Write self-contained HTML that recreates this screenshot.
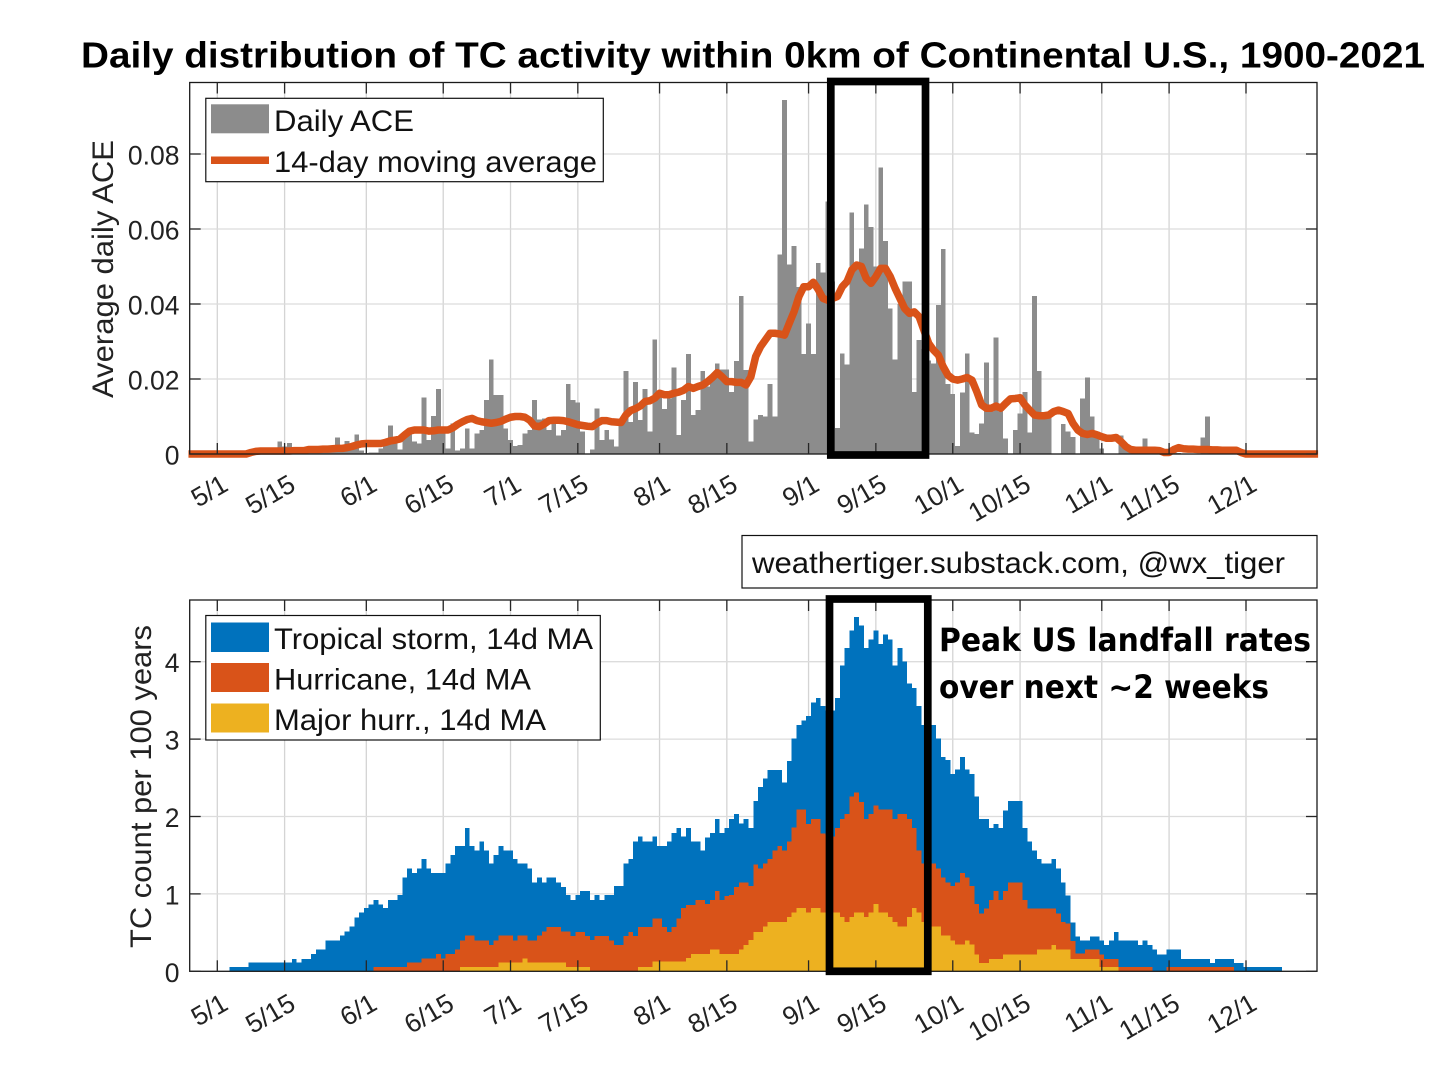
<!DOCTYPE html>
<html><head><meta charset="utf-8"><title>Daily distribution of TC activity</title>
<style>
html,body{margin:0;padding:0;background:#fff}
svg{display:block}
text{font-family:"Liberation Sans",Arial,sans-serif;fill:#111}
.tick{font-size:26.5px;fill:#222}
.leg{font-size:30px;fill:#111}
</style></head>
<body>
<svg id="chart" xmlns="http://www.w3.org/2000/svg" width="1456" height="1092" viewBox="0 0 1456 1092">
<text x="81" y="67.5" font-size="36" font-weight="bold" textLength="1344" lengthAdjust="spacingAndGlyphs" style="fill:#000">Daily distribution of TC activity within 0km of Continental U.S., 1900-2021</text>
<text transform="translate(113,398) rotate(-90)" font-size="30" textLength="258" lengthAdjust="spacingAndGlyphs" style="fill:#222">Average daily ACE</text>
<text transform="translate(151,948) rotate(-90)" font-size="30" textLength="323" lengthAdjust="spacingAndGlyphs" style="fill:#222">TC count per 100 years</text>
<g id="topGrid"></g>
<g id="botGrid"></g>
<g id="aceBars"></g>
<g id="stormBars"></g>
<g id="hurrBars"></g>
<g id="majorBars"></g>
<path id="aceLine" fill="none" stroke="#D95319" stroke-width="7.5" stroke-linejoin="round"/>
<g id="topAxis"></g>
<g id="botAxis"></g>
<rect x="830.8" y="81.5" width="94.7" height="373.5" fill="none" stroke="#000" stroke-width="7.7"/>
<rect x="829.5" y="599" width="98.3" height="372.3" fill="none" stroke="#000" stroke-width="7.7"/>
<g>
<rect x="205.8" y="98.3" width="397.5" height="83.4" fill="#fff" stroke="#111" stroke-width="1.2"/>
<rect x="211" y="104.3" width="58" height="29" fill="#8c8c8c"/>
<rect x="211" y="156.5" width="58" height="7.5" fill="#D95319"/>
<text class="leg" x="274" y="131" textLength="140" lengthAdjust="spacingAndGlyphs">Daily ACE</text>
<text class="leg" x="274" y="172" textLength="323" lengthAdjust="spacingAndGlyphs">14-day moving average</text>
</g>
<g>
<rect x="205.8" y="615.5" width="394.5" height="124.5" fill="#fff" stroke="#111" stroke-width="1.2"/>
<rect x="211" y="622.5" width="58" height="29.5" fill="#0072BD"/>
<rect x="211" y="663" width="58" height="29" fill="#D95319"/>
<rect x="211" y="703.5" width="58" height="29" fill="#EDB120"/>
<text class="leg" x="274" y="649" textLength="319" lengthAdjust="spacingAndGlyphs">Tropical storm, 14d MA</text>
<text class="leg" x="274" y="689.5" textLength="257" lengthAdjust="spacingAndGlyphs">Hurricane, 14d MA</text>
<text class="leg" x="274" y="730" textLength="272" lengthAdjust="spacingAndGlyphs">Major hurr., 14d MA</text>
</g>
<g>
<rect x="742" y="535.5" width="575" height="52.5" fill="#fff" stroke="#111" stroke-width="1.2"/>
<text x="752" y="573" font-size="30" textLength="533" lengthAdjust="spacingAndGlyphs">weathertiger.substack.com, @wx_tiger</text>
</g>
<text x="939" y="651" font-size="32" font-weight="bold" textLength="372" lengthAdjust="spacingAndGlyphs" style="font-family:'DejaVu Sans',sans-serif;fill:#000">Peak US landfall rates</text>
<text x="939" y="698" font-size="32" font-weight="bold" textLength="330" lengthAdjust="spacingAndGlyphs" style="font-family:'DejaVu Sans',sans-serif;fill:#000">over next ~2 weeks</text>
</svg>
<script>
const tickDays = [0,14,31,47,61,75,92,106,123,137,153,167,184,198,214];
const tickLabels = ['5/1','5/15','6/1','6/15','7/1','7/15','8/1','8/15','9/1','9/15','10/1','10/15','11/1','11/15','12/1'];
const aceTicks = [0,0.02,0.04,0.06,0.08];
const aceTickLabels = ['0','0.02','0.04','0.06','0.08'];
const countTicks = [0,1,2,3,4];
const countTickLabels = ['0','1','2','3','4'];
const lineFirstDay = -6;
const dailyAce = [0,0,0,0,0,0,0,0,0,0,0,0,0,.0033,.002,.003,.0006,.0006,.0008,.0008,.0008,.0008,.0012,.0012,.0012,.0044,.002,.0035,.002,.0052,.001,.0003,.0004,.0004,.0015,.0028,.0076,.0037,.0012,.0046,.0057,.0033,.0028,.0151,.0037,.0101,.0173,.006,.0015,.0082,.001,.0015,.0068,.0015,.0055,.0064,.0144,.0252,.0157,.0157,.0068,.0037,.0022,.0024,.0055,.0064,.0144,.0092,.0095,.0064,.0082,.005,.0064,.0187,.0144,.0138,.006,0,.0012,.0122,.0037,.0064,.0039,.002,.0078,.0221,.0086,.0192,.0091,.0173,.006,.0306,.016,.012,.0148,.0231,.0051,.0144,.0267,.0104,.0117,.0221,.018,.0197,.0242,.0226,.0226,.0166,.0248,.0422,.0224,.0033,.0092,.0104,.01,.0187,.01,.0532,.0944,.0506,.0555,.0446,.0267,.0348,.0267,.051,.0484,.0673,.046,.007,.0268,.0239,.0644,.05,.0548,.0666,.0606,.05,.0764,.0568,.0388,.0252,.04,.046,.046,.0166,.0304,.028,.025,.0242,.0397,.0547,.0187,.016,.0022,.0164,.0268,.0058,.0053,.0082,.0244,.0113,.0311,.0113,.0042,0,.0064,.0108,.0166,.0058,.0422,.0221,.01,.01,0,0,.008,.006,.0046,0,.0148,.0204,.01,.006,.0015,.0001,.0002,.0002,.005,.002,.0006,.0002,.0002,.0042,.0005,.0002,.0002,.0002,.0002,.0006,.0003,.0002,.0002,.0002,.0002,.0044,.01,.001];
const movingAverage = [0,0,0,0,0,0,0,0,0,0,0,0,0,.0004,.0007,.0008,.0008,.0008,.0008,.0008,.0008,.0008,.0009,.0009,.0009,.0012,.0012,.0012,.0013,.0013,.0014,.0015,.0015,.0017,.002,.0024,.0027,.0028,.0028,.0028,.0028,.0031,.0035,.0037,.004,.0051,.0061,.0064,.0064,.0064,.0061,.0062,.0064,.0064,.0064,.007,.0079,.0086,.0092,.0095,.0089,.0086,.0084,.0082,.0084,.0087,.0093,.0098,.01,.01,.0098,.009,.0075,.0073,.008,.0089,.009,.009,.0089,.0086,.0082,.0078,.0076,.0074,.0073,.0082,.0089,.0089,.0086,.0085,.0084,.0104,.0116,.0121,.0128,.014,.0142,.0149,.0162,.0158,.0158,.0162,.0165,.017,.018,.0175,.018,.0184,.0193,.0204,.0217,.0206,.0193,.0193,.0191,.0191,.0184,.0206,.026,.0286,.0304,.0322,.0322,.032,.0317,.0349,.038,.042,.0446,.0446,.0458,.0439,.0415,.041,.0415,.042,.0446,.046,.0491,.0504,.05,.0468,.0455,.0473,.0495,.0495,.0473,.0442,.0415,.0388,.0375,.0379,.0366,.033,.0295,.0277,.0264,.0233,.021,.02,.0197,.02,.0204,.0197,.0166,.0131,.0122,.0122,.0128,.0122,.0135,.0147,.0148,.015,.0131,.0117,.0104,.0102,.0102,.0104,.0113,.0117,.0113,.0108,.0082,.0064,.0055,.0052,.0055,.0051,.0046,.0042,.0042,.0044,.0033,.002,.0012,.001,.001,.001,.001,.001,.0009,.0004,.0004,.0012,.0017,.0014,.0013,.0013,.0012,.0012,.0012,.0011,.0011,.001,.001,.001,.001,.0004,0,0,0,0,0,0,0,0,0,0,0,0,0,0,0,0];
const tropicalStormTotal = [0,0,0,.056,.056,.056,.056,.116,.116,.116,.116,.116,.116,.116,.116,.116,.16,.116,.16,.16,.224,.284,.284,.4,.4,.4,.46,.513,.578,.694,.76,.815,.862,.918,.862,.815,.922,.922,.983,1.21,1.33,1.27,1.33,1.45,1.33,1.27,1.27,1.27,1.39,1.5,1.62,1.62,1.85,1.62,1.56,1.68,1.56,1.39,1.5,1.62,1.56,1.56,1.45,1.39,1.39,1.33,1.15,1.21,1.15,1.21,1.21,1.15,1.09,.987,.922,.987,1.04,1.04,.922,.987,.922,.987,.987,1.1,1.1,1.39,1.45,1.68,1.74,1.68,1.68,1.74,1.62,1.62,1.68,1.79,1.85,1.74,1.85,1.68,1.68,1.56,1.73,1.79,1.97,1.79,1.85,1.97,2.03,1.91,1.97,1.85,2.2,2.38,2.49,2.6,2.6,2.6,2.44,2.72,3.01,3.18,3.24,3.3,3.47,3.53,3.43,3.37,3.37,3.53,3.95,4.18,4.4,4.58,4.47,4.18,4.29,4.4,4.23,4.35,4.29,3.95,4.18,4,3.72,3.66,3.43,3.18,3.18,3.18,3.01,2.77,2.73,2.55,2.61,2.77,2.61,2.55,2.26,1.97,1.97,1.85,1.9,1.85,2.08,2.2,2.2,2.2,1.85,1.68,1.56,1.45,1.39,1.39,1.45,1.33,1.15,.98,.63,.45,.4,.4,.45,.45,.4,.34,.4,.51,.4,.4,.4,.4,.34,.4,.34,.28,.22,.22,.28,.28,.28,.16,.16,.16,.16,.16,.16,.11,.16,.16,.16,.16,.11,.11,.056,.056,.056,.056,.056,.056,.056,.056];
const hurricaneTotal = [0,0,0,0,0,0,0,0,0,0,0,0,0,0,0,0,0,0,0,0,0,0,0,0,0,0,0,0,0,0,0,0,0,.056,.056,.056,.056,.056,.056,.056,.116,.116,.116,.168,.168,.168,.224,.168,.224,.224,.284,.4,.46,.46,.4,.4,.4,.34,.4,.46,.46,.46,.4,.46,.46,.4,.4,.46,.513,.573,.573,.573,.513,.513,.457,.51,.51,.457,.405,.457,.457,.457,.4,.34,.34,.457,.51,.457,.57,.57,.57,.685,.685,.57,.51,.57,.685,.815,.858,.858,.92,.92,.87,.92,1.04,.92,.974,.985,1.09,1.15,1.15,1.1,1.38,1.33,1.39,1.45,1.56,1.62,1.56,1.68,1.86,2.09,2.09,1.9,1.97,1.97,1.78,1.76,1.74,1.85,1.97,2.03,2.26,2.31,2.19,1.97,2.03,2.14,2.09,2.09,2.09,1.97,2.03,2.03,1.97,1.85,1.56,1.39,1.39,1.39,1.33,1.21,1.15,1.1,1.15,1.27,1.21,1.1,.87,.75,.81,.92,1.04,.92,1.04,1.15,1.15,1.15,.92,.81,.81,.81,.81,.81,.81,.75,.64,.62,.39,.23,.23,.28,.28,.28,.22,.16,.16,.16,.056,.056,.056,.056,.056,.056,.056,0,0,0,.056,.056,.056,.056,.056,.056,.056,.056,.056,.056,.056,.056,.056,.056];
const majorTotal = [0,0,0,0,0,0,0,0,0,0,0,0,0,0,0,0,0,0,0,0,0,0,0,0,0,0,0,0,0,0,0,0,0,0,0,0,0,0,0,0,0,0,0,0,0,0,0,0,0,0,0,.056,.056,.056,.056,.056,.056,.056,.056,.116,.116,.116,.116,.116,.168,.116,.116,.116,.116,.116,.116,.116,.116,.056,.056,.056,.056,.056,0,0,0,0,0,0,0,0,0,0,.056,.056,.056,.125,.125,.125,.125,.125,.125,.125,.17,.224,.224,.224,.224,.284,.284,.224,.224,.224,.224,.284,.34,.405,.51,.51,.58,.64,.64,.64,.64,.7,.76,.815,.815,.76,.815,.815,.76,.76,.76,.76,.7,.64,.7,.76,.76,.7,.76,.87,.76,.76,.7,.64,.58,.58,.7,.815,.76,.64,.6,.58,.58,.46,.46,.4,.345,.345,.4,.345,.22,.11,.11,.16,.16,.16,.22,.22,.22,.22,.22,.22,.22,.28,.28,.28,.34,.28,.28,.28,.16,.16,.16,.16,.16,.16,.056,.056,.056,.056];

const NS = 'http://www.w3.org/2000/svg';
const plotLeft = 189.7, plotRight = 1317;
const topRect = {top: 82.5, bottom: 454};
const botRect = {top: 600, bottom: 971.3};
function xScale(day){ return 217.3 + 4.807 * day; }
function yAce(v){ return 454 - v * 3750; }
function yCount(v){ return 971.3 - v * 77.4; }
function mk(tag, attrs, parent){
  const el = document.createElementNS(NS, tag);
  for (const k in attrs) el.setAttribute(k, attrs[k]);
  parent.appendChild(el);
  return el;
}
function drawGrid(group, rect, yTicks, yFn){
  tickDays.forEach(function(d){
    const l = mk('line', {x1:xScale(d), x2:xScale(d), y1:rect.top, y2:rect.bottom, stroke:'#d4d4d4', 'stroke-width':1.3}, group);
    
    
  });
  yTicks.forEach(function(v){
    const l = mk('line', {x1:plotLeft, x2:plotRight, y1:yFn(v), y2:yFn(v), stroke:'#dcdcdc', 'stroke-width':1.3}, group);
    
    
  });
}
function drawBars(group, values, fill, yFn, name){
  values.forEach(function(v, d){
    if (v <= 0) return;
    const x0 = xScale(d - 0.5), x1 = xScale(d + 0.5);
    const r = mk('rect', {x:x0, width:x1 - x0, y:yFn(v), height:yFn(0) - yFn(v), fill:fill, 'shape-rendering':'crispEdges'}, group);
    
    
  });
}
function drawAxes(group, rect, yTicks, yLabels, yFn, labelY){
  const f = mk('rect', {x:plotLeft, y:rect.top, width:plotRight - plotLeft, height:rect.bottom - rect.top, fill:'none', stroke:'#1a1a1a', 'stroke-width':1.3}, group);
  
  
  tickDays.forEach(function(d, i){
    const x = xScale(d);
    const a = mk('line', {x1:x, x2:x, y1:rect.bottom, y2:rect.bottom - 11, stroke:'#262626', 'stroke-width':1.3}, group);
    
    
    const b = mk('line', {x1:x, x2:x, y1:rect.top, y2:rect.top + 11, stroke:'#262626', 'stroke-width':1.3}, group);
    
    
    const t = mk('text', {'class':'tick', 'text-anchor':'end', transform:'translate(' + (x + 12.5) + ',' + labelY + ') rotate(-30)'}, group);
    t.textContent = tickLabels[i];
    
    
  });
  yTicks.forEach(function(v, i){
    const y = yFn(v);
    const a = mk('line', {x1:plotLeft, x2:plotLeft + 11, y1:y, y2:y, stroke:'#262626', 'stroke-width':1.3}, group);
    
    
    const b = mk('line', {x1:plotRight, x2:plotRight - 11, y1:y, y2:y, stroke:'#262626', 'stroke-width':1.3}, group);
    
    
    const t = mk('text', {'class':'tick', 'text-anchor':'end', x:179.5, y:y + 10.5}, group);
    t.textContent = yLabels[i];
    
    
  });
}
const $ = function(id){ return document.getElementById(id); };
drawGrid($('topGrid'), topRect, aceTicks, yAce);
drawGrid($('botGrid'), botRect, countTicks, yCount);
drawBars($('aceBars'), dailyAce, '#8c8c8c', yAce, 'daily-ace-bar');
drawBars($('stormBars'), tropicalStormTotal, '#0072BD', yCount, 'tropical-storm-bar');
drawBars($('hurrBars'), hurricaneTotal, '#D95319', yCount, 'hurricane-bar');
drawBars($('majorBars'), majorTotal, '#EDB120', yCount, 'major-hurricane-bar');
$('aceLine').setAttribute('d', movingAverage.map(function(v, i){
  return (i ? 'L' : 'M') + xScale(i + lineFirstDay).toFixed(2) + ' ' + yAce(v).toFixed(2);
}).join(' '));
drawAxes($('topAxis'), topRect, aceTicks, aceTickLabels, yAce, 489.5);
drawAxes($('botAxis'), botRect, countTicks, countTickLabels, yCount, 1008.5);
</script>
</body></html>
